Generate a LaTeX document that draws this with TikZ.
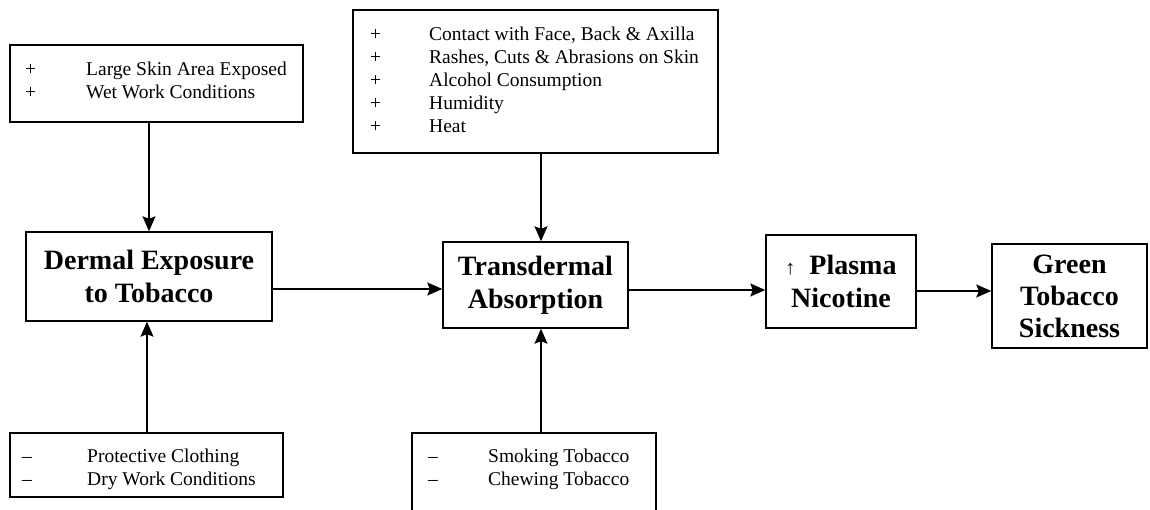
\documentclass[tikz,border=0pt]{standalone}
\usepackage{fontspec}
\setmainfont{Liberation Serif}
\usetikzlibrary{arrows.meta,calc}
\tikzset{
 box/.style={draw,line width=1.4pt,inner sep=0pt},
 title/.style={font=\fontsize{28}{33}\selectfont\bfseries,align=center},
 list/.style={anchor=base west,inner sep=0pt,font=\fontsize{19.5}{23}\selectfont,align=left},
 arr/.style={line width=1.4pt,-{Stealth[length=15pt,width=13pt,inset=2.5pt]}},
}
\begin{document}
\begin{tikzpicture}[x=1pt,y=-1pt]
\useasboundingbox (0,0) rectangle (1150,510);
% factor boxes
\node[box,minimum width=293pt,minimum height=77pt] (A) at (156.5,83.5) {};
\node[list] (Atext) at (25,76) {\begin{tabular}[t]{@{}p{61pt}@{}l@{}}+ & Large Skin Area Exposed\\ + & Wet Work Conditions\end{tabular}};
\node[box,minimum width=365pt,minimum height=143pt] (B) at (535.5,81.5) {};
\node[list] (Btext) at (370,41) {\begin{tabular}[t]{@{}p{59pt}@{}l@{}}+ & Contact with Face, Back \& Axilla\\ + & Rashes, Cuts \& Abrasions on Skin\\ + & Alcohol Consumption\\ + & Humidity\\ + & Heat\end{tabular}};
\node[box,minimum width=273pt,minimum height=64pt] (C) at (146.5,465) {};
\node[list] (Ctext) at (22,462) {\begin{tabular}[t]{@{}p{65pt}@{}l@{}}– & Protective Clothing\\ – & Dry Work Conditions\end{tabular}};
\node[box,minimum width=244pt,minimum height=82pt] (E) at (534,474) {};
\node[list] (Etext) at (428,462) {\begin{tabular}[t]{@{}p{60pt}@{}l@{}}– & Smoking Tobacco\\ – & Chewing Tobacco\end{tabular}};
% main chain
\node[box,title,minimum width=246pt,minimum height=89pt] (D) at (149,276.5) {Dermal Exposure\\to Tobacco};
\node[box,title,minimum width=185pt,minimum height=86pt] (T) at (535.5,285) {Transdermal\\Absorption};
\node[box,title,minimum width=150pt,minimum height=93pt] (P) at (841,281.5) {{\fontsize{20}{20}\selectfont\mdseries ↑}\hspace{14pt}Plasma\\Nicotine};
\node[box,title,minimum width=155pt,minimum height=104pt,font=\fontsize{28}{32}\selectfont\bfseries] (G) at (1069.5,296) {Green\\Tobacco\\Sickness};
% arrows
\draw[arr] (A.south -| D.north) -- (D.north);
\draw[arr] ([xshift=5.5pt]T.north |- B.south) -- ([xshift=5.5pt]T.north);
\draw[arr] ([xshift=0.5pt]C.north) -- ([xshift=0.5pt]C.north |- D.south);
\draw[arr] ([xshift=5.5pt]T.south |- E.north) -- ([xshift=5.5pt]T.south);
\draw[arr] ([yshift=-12.5pt]D.east) -- ([yshift=-12.5pt]D.east -| T.west);
\draw[arr] ([yshift=-5pt]T.east) -- ([yshift=-5pt]T.east -| P.west);
\draw[arr] ([yshift=-9.5pt]P.east) -- ([yshift=-9.5pt]P.east -| G.west);
\end{tikzpicture}
\end{document}
